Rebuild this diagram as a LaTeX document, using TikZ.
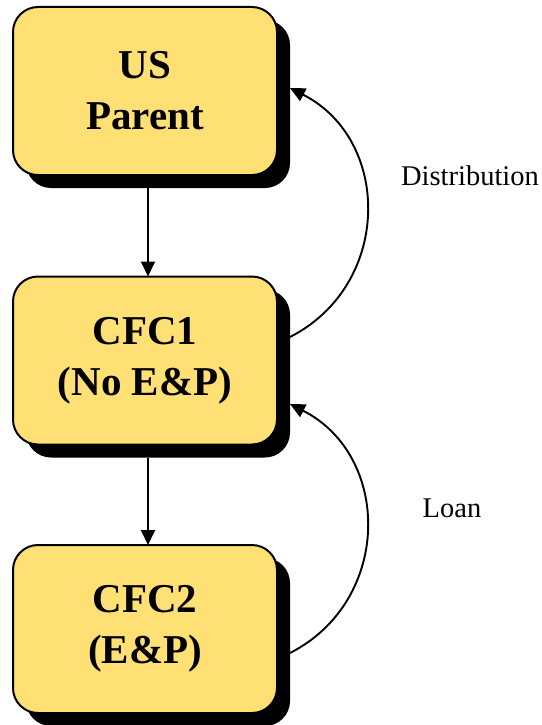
\documentclass[tikz,border=0pt]{standalone}
\usepackage{fontspec}
\setmainfont{Liberation Serif}
\usetikzlibrary{calc,shadows,arrows.meta}
\definecolor{entityfill}{HTML}{FFE074}
\begin{document}
\begin{tikzpicture}[x=1pt,y=-1pt,
  entity/.style={rectangle, rounded corners=25pt, draw=black, line width=2pt,
    fill=entityfill, minimum width=264pt, minimum height=168pt, inner sep=0pt,
    outer sep=0pt, align=center,
    font=\bfseries\fontsize{41}{51}\selectfont,
    general shadow={fill=black, shadow xshift=13pt, shadow yshift=-13pt}},
  flow/.style={line width=1.9pt, -{Triangle[length=15pt,width=14pt]}},
  flowlabel/.style={font=\fontsize{28.5}{34}\selectfont, inner sep=0pt}]
  \useasboundingbox (0,0) rectangle (541,725);

  % entities
  \node[entity] (parent) at (145,91) {US\\Parent};
  \node[entity] (cfc1) at (145,360.5) {CFC1\\(No E\&P)};
  \node[entity] (cfc2) at (145,629) {CFC2\\(E\&P)};

  % ownership chain
  \draw[flow] ($(parent.south)+(3,13)$) -- ($(cfc1.north)+(3,0)$);
  \draw[flow] ($(cfc1.south)+(3,13)$) -- ($(cfc2.north)+(3,0)$);

  % cash movements
  \coordinate (distStart) at ($(cfc1.east)+(13,-23.5)$);
  \coordinate (distEnd) at ($(parent.east)+(13,-3)$);
  \draw[flow] (distStart) .. controls +(102,-52) and +(102,52) .. (distEnd);

  \coordinate (loanStart) at ($(cfc2.east)+(13,24)$);
  \coordinate (loanEnd) at ($(cfc1.east)+(13,43.5)$);
  \draw[flow] (loanStart) .. controls +(102,-52) and +(102,52) .. (loanEnd);

  \node[flowlabel] (dist) at (470,176) {Distribution};
  \node[flowlabel] (loan) at (452,508) {Loan};
\end{tikzpicture}
\end{document}
